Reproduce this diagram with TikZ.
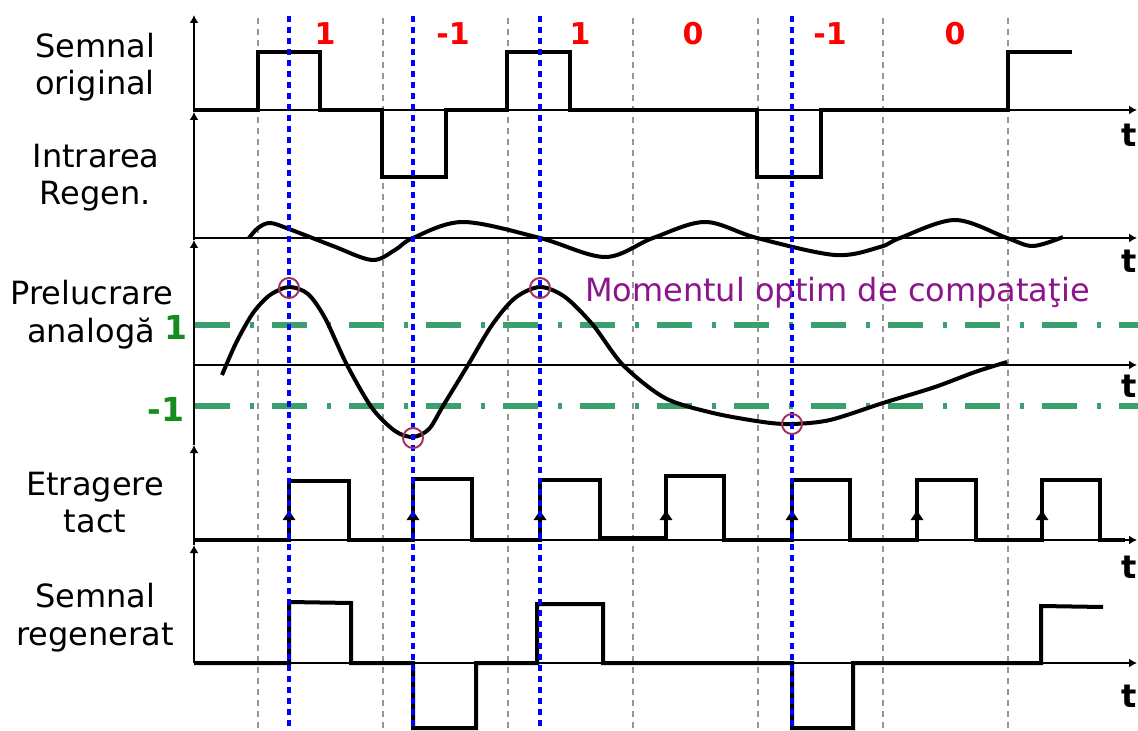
\documentclass[tikz,border=0pt]{standalone}
\usepackage{fontspec}
\setmainfont{DejaVu Sans}
\usetikzlibrary{arrows.meta}
\definecolor{lvlgreen}{RGB}{60,160,110}
\definecolor{lblgreen}{RGB}{20,140,30}
\definecolor{optpurple}{RGB}{140,20,140}
\definecolor{circcol}{RGB}{160,50,100}
\definecolor{gridgrey}{RGB}{150,150,150}
\begin{document}
\begin{tikzpicture}[x=0.5pt,y=-0.5pt,
  axisline/.style={line width=1pt,-{Latex[length=4pt,width=4.5pt]}},
  sig/.style={line width=2pt,line join=miter},
  gridline/.style={gridgrey,line width=0.7pt,dash pattern=on 3pt off 2.5pt},
  sampleline/.style={blue,line width=2pt,dash pattern=on 3pt off 2.5pt},
  levelline/.style={lvlgreen,line width=2.6pt,dash pattern=on 17.5pt off 10pt on 2pt off 9pt},
  lab/.style={font=\fontsize{16}{19}\selectfont,anchor=base},
  sym/.style={red,font=\bfseries\fontsize{15}{18}\selectfont,anchor=base},
  tlab/.style={font=\bfseries\fontsize{16}{18}\selectfont,anchor=base},
  lvl/.style={lblgreen,font=\bfseries\fontsize{16.5}{19}\selectfont,anchor=base},
  clk/.style={line width=1.2pt,-{Latex[length=5.5pt,width=7pt]}},
  optc/.style={circcol,line width=1pt}]
\useasboundingbox (0,0) rectangle (1138,731);

% grey dashed grid
\foreach \x in {258,383,508,633,758,883,1008}
  \draw[gridline] (\x,18) -- (\x,731);

% vertical axis segments
\draw[axisline] (194,663) -- (194,545);
\draw[axisline] (194,545) -- (194,445);
\draw[axisline] (194,445) -- (194,240);
\draw[axisline] (194,240) -- (194,112);
\draw[axisline] (194,112) -- (194,15);

% horizontal axes
\foreach \y in {110,238,365,540,663}
  \draw[axisline] (194,\y) -- (1137,\y);

% level lines
\draw[levelline] (195,325) -- (1138,325);
\draw[levelline] (195,406) -- (1138,406);

% original + regenerator input
\draw[sig] (194,110) -- (258,110) -- (258,52) -- (320,52) -- (320,110) -- (382,110)
  -- (382,177) -- (446,177) -- (446,110) -- (507,110) -- (507,52) -- (570,52) -- (570,110)
  -- (757,110) -- (757,177) -- (821,177) -- (821,110) -- (1008,110) -- (1008,52) -- (1072,52);

% small wave
\draw[line width=2pt] plot[smooth,tension=0.55] coordinates {
 (249,238) (258,228) (270,223) (289,229) (333,246) (372,260) (395,250) (413,238)
 (463,222) (540,238) (605,257) (653,238) (705,222) (757,238) (835,255) (880,247)
 (900,238) (955,220) (1007,238) (1033,246) (1063,237)};

% analog processed signal
\draw[line width=2pt] plot[smooth,tension=0.5] coordinates {
 (222,375) (236,343) (253,313) (270,295) (289,287) (308,294) (325,318) (347,365) (372,408)
 (395,431) (413,437) (429,429) (443,406) (468,365) (492,325) (515,298) (540,287)
 (565,297) (593,325) (623,365) (665,398) (713,413) (763,422) (792,424) (830,420)
 (883,403) (935,387) (975,372) (1007,362)};

% clock extraction
\draw[sig] (194,540) -- (289,540) -- (289,481) -- (349,481) -- (349,540) -- (413,540)
  -- (413,479) -- (472,479) -- (472,540) -- (540,540) -- (540,480) -- (600,480) -- (600,538)
  -- (666,538) -- (666,476) -- (724,476) -- (724,540) -- (792,540) -- (792,480) -- (850,480)
  -- (850,540) -- (917,540) -- (917,480) -- (976,480) -- (976,540) -- (1042,540)
  -- (1042,480) -- (1100,480) -- (1100,540) -- (1125,540);
\foreach \x/\yb in {289/540,413/540,540/540,666/538,792/540,917/540,1042/540}
  \draw[clk] (\x,\yb) -- (\x,509);

% regenerated
\draw[sig] (194,663) -- (289,663) -- (289,602) -- (351,603) -- (351,663) -- (413,663)
  -- (413,728) -- (476,728) -- (476,663) -- (537,663) -- (537,604) -- (603,604) -- (603,663)
  -- (792,663) -- (792,728) -- (853,728) -- (853,663) -- (1041,663) -- (1041,606) -- (1103,607);

% sampling instants
\foreach \x in {289,413,540,792}
  \draw[sampleline] (\x,16) -- (\x,731);

% optimum circles
\draw[optc] (289,288) circle[radius=10];
\draw[optc] (540,288) circle[radius=10];
\draw[optc] (413,438) circle[radius=10];
\draw[optc] (792,424) circle[radius=10];

% labels
\node[lab] (so1) at (95,58) {Semnal};
\node[lab] (so2) at (95,95) {original};
\node[lab] (ir1) at (96,168) {Intrarea};
\node[lab] (ir2) at (95,205) {Regen.};
\node[lab] (pa1) at (92,305) {Prelucrare};
\node[lab] (pa2) at (91,343) {analogă};
\node[lab] (et1) at (95,495) {Etragere};
\node[lab] (et2) at (95,532) {tact};
\node[lab] (sr1) at (95,607) {Semnal};
\node[lab] (sr2) at (95,645) {regenerat};

\node[sym] (s1) at (325,45) {1};
\node[sym] (s2) at (453,45) {-1};
\node[sym] (s3) at (580,45) {1};
\node[sym] (s4) at (693,45) {0};
\node[sym] (s5) at (830,45) {-1};
\node[sym] (s6) at (955,45) {0};

\foreach \y [count=\i] in {147,273,397,578,707}
  \node[tlab] (t\i) at (1129,\y) {t};

\node[lvl] (lp) at (176,340) {1};
\node[lvl] (lm) at (166,422) {-1};

\node[optpurple,font=\fontsize{16}{19}\selectfont,anchor=base west] (opt) at (578,302) {Momentul optim de compataţie};
\end{tikzpicture}
\end{document}
